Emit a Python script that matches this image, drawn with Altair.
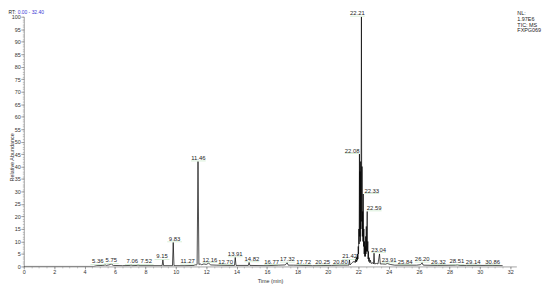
import altair as alt
import pandas as pd

# ---- chromatogram trace (time in min, relative abundance %) ----
trace_rt = [0.0, 4.6, 4.8, 5.2, 5.30, 5.36, 5.42, 5.60, 5.70, 5.75, 5.80, 5.90, 6.5, 7.0, 7.06, 7.12,
            7.45, 7.52, 7.58, 8.5, 9.10, 9.15, 9.20, 9.78, 9.83, 9.88, 10.6, 11.20, 11.27, 11.33,
            11.40, 11.46, 11.52, 11.60, 11.70, 11.85, 12.00, 12.16, 12.30, 12.70, 13.50, 13.86,
            13.91, 13.96, 14.77, 14.82, 14.87, 16.0, 16.77, 17.20, 17.32, 17.40, 17.72, 19.0,
            20.25, 20.80, 21.30, 21.38, 21.42, 21.46, 21.55, 21.65, 21.75,
            21.80, 21.84, 21.86, 21.88, 21.90, 21.92, 21.94, 21.96, 21.98, 22.00, 22.02, 22.04,
            22.06, 22.08, 22.10, 22.12, 22.14, 22.16, 22.18, 22.21, 22.23, 22.25, 22.27, 22.29,
            22.31, 22.33, 22.35, 22.37, 22.39, 22.41, 22.43, 22.45, 22.47, 22.49, 22.51, 22.53,
            22.55, 22.57, 22.59, 22.61, 22.63, 22.65, 22.67, 22.69, 22.72, 22.76, 22.80, 22.85,
            22.95, 23.00, 23.04, 23.08, 23.20, 23.30, 23.40, 23.45, 23.60, 23.80, 23.91, 24.10,
            24.40, 25.84, 26.10, 26.20, 26.26, 26.32, 27.20, 28.40, 28.51, 28.70, 29.14, 30.86,
            31.50]
trace_ab = [0.0, 0.0, 0.3, 0.4, 0.5, 0.6, 0.4, 0.6, 0.8, 1.0, 0.7, 0.4, 0.3, 0.4, 0.6, 0.3,
            0.4, 0.6, 0.3, 0.3, 0.3, 2.6, 0.3, 0.3, 9.6, 0.3, 0.3, 0.4, 0.7, 0.5,
            0.8, 42.0, 0.8, 1.0, 0.7, 1.0, 0.8, 1.3, 0.6, 0.5, 0.4, 0.4,
            3.6, 0.4, 0.4, 1.6, 0.4, 0.3, 0.5, 0.6, 1.5, 0.5, 0.5, 0.3,
            0.4, 0.5, 0.5, 0.5, 2.6, 0.6, 1.2, 1.8, 2.0,
            1.5, 3.0, 1.8, 3.5, 2.0, 4.0, 2.5, 5.0, 3.0, 8.0, 5.0, 15.0,
            9.0, 45.0, 12.0, 38.0, 10.0, 42.0, 15.0, 100.0, 18.0, 40.0, 12.0, 22.0,
            10.0, 29.0, 8.0, 15.0, 5.0, 10.0, 4.0, 8.0, 4.0, 12.0, 5.0, 16.0,
            6.0, 14.0, 22.0, 6.0, 10.0, 3.0, 6.0, 2.0, 3.5, 1.5, 2.5, 1.2,
            1.5, 1.0, 5.3, 1.0, 1.2, 1.0, 5.0, 1.0, 1.0, 0.9, 1.2, 0.8,
            0.5, 0.5, 0.7, 1.5, 0.6, 0.5, 0.4, 0.5, 0.6, 0.4, 0.4, 0.4,
            0.3]

# ---- labelled peaks: retention time, apex height, and where the label sits (min) ----
peak_rt = [5.36, 5.75, 7.06, 7.52, 9.15, 9.83, 11.27, 11.46, 12.16, 12.70, 13.91, 14.82, 16.77,
           17.32, 17.72, 20.25, 20.80, 21.42, 22.08, 22.21, 22.33, 22.59, 23.04, 23.91, 25.84,
           26.20, 26.32, 28.51, 29.14, 30.86]
peak_ab = [0.6, 1.0, 0.6, 0.6, 2.6, 9.6, 0.7, 42.0, 1.3, 0.5, 3.6, 1.6, 0.5,
           1.5, 0.5, 0.4, 0.5, 2.6, 45.0, 100.0, 29.0, 22.0, 5.3, 1.2, 0.5,
           1.5, 0.5, 0.6, 0.4, 0.4]
label_at = [4.87, 5.76, 7.14, 8.05, 9.09, 9.92, 10.78, 11.48, 12.24, 13.27, 13.91, 15.0, 16.3,
            17.34, 18.41, 19.66, 20.82, 21.43, 21.60, 21.95, 22.89, 23.05, 23.34, 24.03, 25.08,
            26.21, 27.27, 28.49, 29.56, 30.84]

y_major = list(range(0, 101, 5))
y_minor = list(range(0, 101, 1))
x_major = list(range(0, 33, 2))
x_minor = [i * 0.5 for i in range(0, 65)]

FONT = "Liberation Sans"

trace = pd.DataFrame({"rt": trace_rt, "ab": trace_ab})
peaks = pd.DataFrame({"rt": peak_rt, "ab": peak_ab, "pos": label_at,
                      "label": [f"{v:.2f}" for v in peak_rt]})

xs = alt.Scale(domain=[0, 32.4], nice=False, zero=False)
ys = alt.Scale(domain=[0, 100], nice=False)

line = alt.Chart(trace).mark_line(color="black", strokeWidth=0.7, clip=True).encode(
    x=alt.X("rt:Q", scale=xs, axis=alt.Axis(
        values=x_major, title="Time (min)", labelFontSize=5.5, titleFontSize=5.5,
        titleFontWeight="normal", labelFont=FONT, titleFont=FONT, tickSize=2.5,
        labelPadding=0.5, grid=False, domainColor="#666", tickColor="#666",
        labelColor="#333", titleColor="#333", titleY=14, titleBaseline="middle",
        domainWidth=0.6, tickWidth=0.6, labelFlush=False, labelOverlap=False)),
    y=alt.Y("ab:Q", scale=ys, axis=alt.Axis(
        values=y_major, title="Relative Abundance", labelFontSize=5.5, titleFontSize=5.5,
        titleFontWeight="normal", labelFont=FONT, titleFont=FONT, tickSize=3,
        labelPadding=0.5, grid=False, domainColor="#666", tickColor="#666",
        labelColor="#333", titleColor="#333", titleX=-12.5, titleY=142,
        titleBaseline="middle", titleAlign="center", domainWidth=0.6, tickWidth=0.6,
        labelFlush=False, labelOverlap=False)),
)

minor = alt.Chart(trace).mark_line(opacity=0).encode(
    x=alt.X("rt:Q", scale=xs, axis=alt.Axis(
        values=x_minor, labels=False, title=None, tickSize=1.5, domain=False,
        grid=False, tickColor="#888", tickWidth=0.5, orient="bottom")),
    y=alt.Y("ab:Q", scale=ys, axis=alt.Axis(
        values=y_minor, labels=False, title=None, tickSize=1.5, domain=False,
        grid=False, tickColor="#888", tickWidth=0.5, orient="left")),
)

lbl_base = alt.Chart(peaks).encode(
    x=alt.X("pos:Q", scale=xs, axis=None),
    y=alt.Y("ab:Q", scale=ys, axis=None),
)
under = lbl_base.mark_tick(orient="horizontal", size=15, thickness=0.6,
                           color="#a6dca6", yOffset=-0.6)
txt = lbl_base.mark_text(font=FONT, fontSize=6, align="center", baseline="alphabetic",
                         dy=-1.5, color="#222").encode(text="label:N")

one = pd.DataFrame({"a": [0]})
rt_a = alt.Chart(one).mark_text(text="RT:", font=FONT, fontSize=5, align="left",
                                baseline="top", color="#222").encode(
    x=alt.value(-15.5), y=alt.value(-6.6))
rt_b = alt.Chart(one).mark_text(text="0.00 - 32.40", font=FONT, fontSize=5, align="left",
                                baseline="top", color="#3a3ad6").encode(
    x=alt.value(-6.2), y=alt.value(-6.6))
nl = alt.Chart(one).mark_text(text=["NL:", "1.97E6", "TIC: MS", "FXPG069"], font=FONT,
                              fontSize=5.5, lineHeight=5.8, align="left", baseline="top",
                              color="#222").encode(
    x=alt.value(500), y=alt.value(-5.5))

chart = alt.layer(line, minor, under, txt, rt_a, rt_b, nl).resolve_axis(
    x="independent", y="independent").properties(
    width=499, height=253,
    autosize=alt.AutoSizeParams(type="none"),
    padding={"left": 16, "top": 7, "right": 26, "bottom": 18},
).configure_view(stroke=None)

chart.save("out.html", embed_options={"renderer": "svg", "actions": False})
